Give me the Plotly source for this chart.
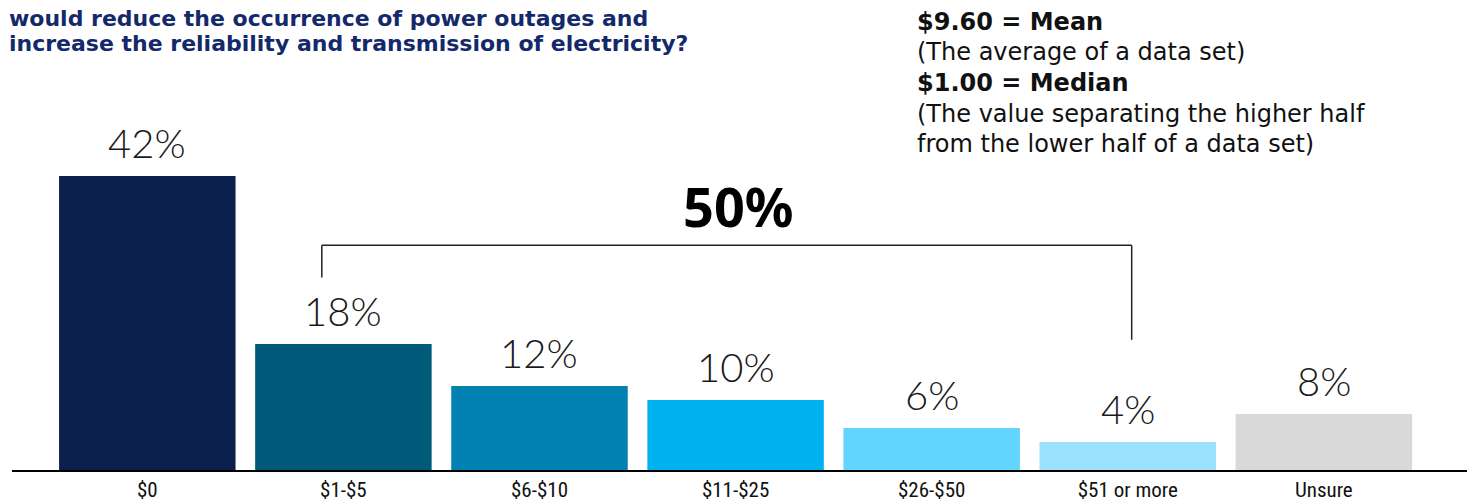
import plotly.graph_objects as go

# survey answers: how much extra per month would you pay
categories = ["$0", "$1-$5", "$6-$10", "$11-$25", "$26-$50", "$51 or more", "Unsure"]
values = [42, 18, 12, 10, 6, 4, 8]
labels = ["42%", "18%", "12%", "10%", "6%", "4%", "8%"]
bar_colors = ["#0a1f4b", "#005a7a", "#0081b2", "#00b2ef", "#61d5fe", "#99e1fc", "#d9d9d9"]

title_lines = ["would reduce the occurrence of power outages and",
               "increase the reliability and transmission of electricity?"]
stats_lines = ["<b>$9.60 = Mean</b>", "(The average of a data set)", "<b>$1.00 = Median</b>",
               "(The value separating the higher half", "from the lower half of a data set)"]
bracket_total = "50%"

W, H = 1467, 494   # page body has an 8px margin
T, L = 42, 4
PH = 420

fig = go.Figure()
fig.add_trace(go.Bar(
    x=categories, y=values,
    marker=dict(color=bar_colors, line=dict(width=0)),
    width=0.9, hoverinfo="x+y",
))

# percentage labels above each bar
for cat, val, lab in zip(categories, values, labels):
    fig.add_annotation(x=cat, y=val, text=lab, showarrow=False, yanchor="bottom", yshift=7,
                       font=dict(family="Lato, Noto Sans, sans-serif", size=40, color="#1a1a1a", weight=300))

fig.update_layout(
    width=W, height=H,
    margin=dict(l=L, r=8, t=T, b=H - T - PH, autoexpand=False),
    paper_bgcolor="white", plot_bgcolor="white",
    showlegend=False,
    xaxis=dict(range=[-0.69, 6.73], showline=True, linecolor="black", linewidth=2,
               ticks="", showgrid=False, automargin=False,
               tickfont=dict(family="Liberation Sans Narrow, Roboto Condensed, Liberation Sans, sans-serif",
                             size=21, color="#111111")),
    yaxis=dict(range=[0, 60], visible=False, showgrid=False, zeroline=False, automargin=False),
    font=dict(family="Noto Sans, sans-serif"),
)

def py(px):
    # page pixel (from top of figure) to paper y
    return 1 - (px - T) / PH

# title continuation at top left
for i, line in enumerate(title_lines):
    fig.add_annotation(xref="paper", yref="paper", x=-L/(W - L - 8), y=py(10 + 25*i),
                       xanchor="left", yanchor="middle", showarrow=False, borderpad=0,
                       text="<b>" + line + "</b>",
                       font=dict(family="DejaVu Sans, sans-serif", size=22, color="#13296b"))

# mean / median note
for i, line in enumerate(stats_lines):
    fig.add_annotation(xref="paper", yref="paper", x=(907 - L)/(W - L - 8), y=py(14 + 30.5*i),
                       xanchor="left", yanchor="middle", showarrow=False, text=line,
                       font=dict(family="DejaVu Sans, sans-serif", size=24, color="#111111"))

# bracket spanning the paying respondents
fig.add_shape(type="line", xref="x", yref="y", x0=0.89, x1=5.02, y0=32.1, y1=32.1,
              line=dict(color="#222222", width=1.5))
fig.add_shape(type="line", xref="x", yref="y", x0=0.89, x1=0.89, y0=32.1, y1=27.5,
              line=dict(color="#222222", width=1.5))
fig.add_shape(type="line", xref="x", yref="y", x0=5.02, x1=5.02, y0=32.1, y1=18.6,
              line=dict(color="#222222", width=1.5))
fig.add_annotation(xref="x", yref="y", x=3.01, y=37.7, showarrow=False,
                   text="<b>" + bracket_total + "</b>", yanchor="middle",
                   font=dict(family="Noto Sans, sans-serif", size=54, color="#000000"))

fig.write_html("out.html")
